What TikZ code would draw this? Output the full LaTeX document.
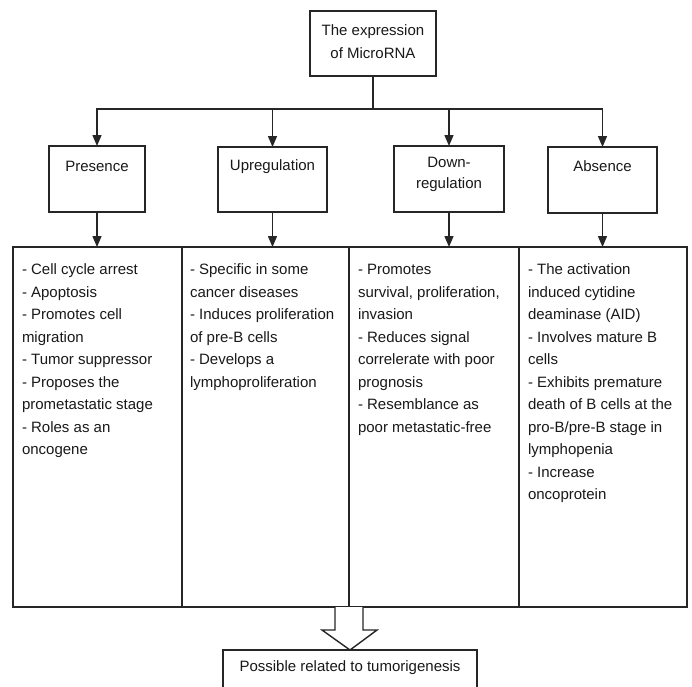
\documentclass[tikz,border=0pt]{standalone}
\usepackage{fontspec}
\setmainfont{Liberation Sans}
\usetikzlibrary{arrows.meta}
\begin{document}
\begin{tikzpicture}[x=1pt,y=-1pt,
  every node/.style={inner sep=0pt, outer sep=0pt},
  ln/.style={line width=1.4pt, draw=black!85},
  arr/.style={ln, -{Triangle[length=11pt,width=9pt]}},
  boxx/.style={ln, rectangle, fill=white},
  txt/.style={font=\fontsize{15}{22.5}\selectfont, text=black!90},
  coltxt/.style={txt, align=left, anchor=north west}
]
\useasboundingbox (0,0) rectangle (692,686);
\fill[white] (0,0) rectangle (692,686);

% top box
\node[boxx, minimum width=126pt, minimum height=65pt] (top) at (373,43.5) {};
\node[txt, align=center, font=\fontsize{15}{23}\selectfont] (toptxt) at (373,42) {The expression\\of MicroRNA};

% category boxes
\node[boxx, minimum width=96pt, minimum height=66pt] (pres) at (97,179) {};
\node[boxx, minimum width=109pt, minimum height=65pt] (upr) at (272.5,179.5) {};
\node[boxx, minimum width=110pt, minimum height=66pt] (down) at (449,179) {};
\node[boxx, minimum width=109pt, minimum height=66pt] (abs) at (602.5,180) {};
\node[txt] (prest) at (97,166) {Presence};
\node[txt] (uprt) at (272.5,167) {Upregulation};
\node[txt, align=center, font=\fontsize{15}{21.5}\selectfont, anchor=north] (downt) at (449,157) {Down-\\regulation};
\node[txt] (abst) at (602.5,166) {Absence};

% connectors from top
\coordinate (hub) at (373,109);
\draw[ln] (top.south) -- (hub);
\draw[arr] (hub) -| (pres.north);
\draw[arr] (hub) -| (upr.north);
\draw[arr] (hub) -| (down.north);
\draw[arr] (hub) -| (abs.north);

% columns
\node[boxx, minimum width=169pt, minimum height=360pt] (c1) at (97.5,427) {};
\node[boxx, minimum width=167pt, minimum height=360pt] (c2) at (265.5,427) {};
\node[boxx, minimum width=170pt, minimum height=360pt] (c3) at (434,427) {};
\node[boxx, minimum width=168pt, minimum height=360pt] (c4) at (603,427) {};

\draw[arr] (pres.south) -- (pres.south |- c1.north);
\draw[arr] (upr.south) -- (upr.south |- c2.north);
\draw[arr] (down.south) -- (down.south |- c3.north);
\draw[arr] (abs.south) -- (abs.south |- c4.north);

\node[coltxt] (t1) at (22,259) {\strut- Cell cycle arrest\\- Apoptosis\\- Promotes cell\\migration\\- Tumor suppressor\\- Proposes the\\prometastatic stage\\- Roles as an\\oncogene};
\node[coltxt] (t2) at (190,259) {\strut- Specific in some\\cancer diseases\\- Induces proliferation\\of pre-B cells\\- Develops a\\lymphoproliferation};
\node[coltxt] (t3) at (358,259) {\strut- Promotes\\survival, proliferation,\\invasion\\- Reduces signal\\correlerate with poor\\prognosis\\- Resemblance as\\poor metastatic-free};
\node[coltxt] (t4) at (528,259) {\strut- The activation\\induced cytidine\\deaminase (AID)\\- Involves mature B\\cells\\- Exhibits premature\\death of B cells at the\\pro-B/pre-B stage in\\lymphopenia\\- Increase\\oncoprotein};

% bottom box
\node[boxx, minimum width=254pt, minimum height=60pt] (bot) at (350,680) {};
\node[txt] (bott) at (350,668) {Possible related to tumorigenesis};

% hollow arrow
\draw[ln, fill=white, line join=miter] (335,607) -- (335,630) -- (322,630) -- (bot.north) -- (377,630) -- (363,630) -- (363,607);
\end{tikzpicture}
\end{document}
